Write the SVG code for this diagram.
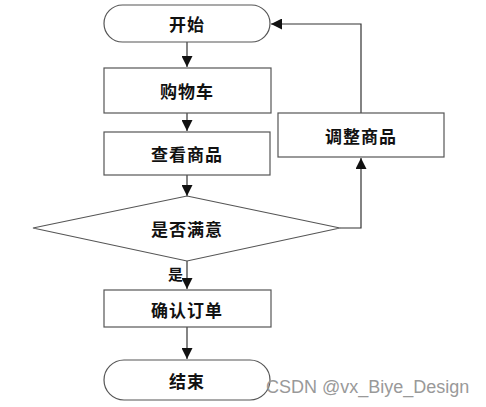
<svg xmlns="http://www.w3.org/2000/svg" width="486" height="407" viewBox="0 0 486 407">
<style>
.n{fill:#fff;stroke:#555;stroke-width:1.2}
.t{font-family:"Noto Sans CJK SC",sans-serif;font-size:17px;font-weight:bold;fill:#111;text-anchor:middle;dominant-baseline:central;letter-spacing:1px}
.c{fill:none;stroke:#333;stroke-width:1.2}
</style>
<defs>
<marker id="a" viewBox="0 0 10 10" refX="10" refY="5" markerWidth="11" markerHeight="11" markerUnits="userSpaceOnUse" orient="auto">
<path d="M0,0L10,5L0,10z" fill="#111"/>
</marker>
</defs>
<rect width="486" height="407" fill="#fff"/>
<g id="connectors">
<line class="c" x1="187" y1="42" x2="187" y2="67" marker-end="url(#a)"/>
<line class="c" x1="187" y1="113" x2="187" y2="131" marker-end="url(#a)"/>
<line class="c" x1="187" y1="175" x2="187" y2="196" marker-end="url(#a)"/>
<line class="c" x1="187" y1="261" x2="187" y2="289" marker-end="url(#a)"/>
<line class="c" x1="187" y1="327" x2="187" y2="359" marker-end="url(#a)"/>
<polyline class="c" points="340,228 361,228 361,158" marker-end="url(#a)"/>
<polyline class="c" points="361,113 361,24 271,24" marker-end="url(#a)"/>
<text class="t" x="176" y="273" style="font-size:15px">是</text>
</g>
<g id="start"><rect class="n" x="104" y="5" width="166" height="37" rx="18.5"/><text class="t" x="187" y="23">开始</text></g>
<g id="cart"><rect class="n" x="104" y="68" width="167" height="45"/><text class="t" x="187" y="90">购物车</text></g>
<g id="view"><rect class="n" x="104" y="132" width="166" height="43"/><text class="t" x="187" y="153">查看商品</text></g>
<g id="decide"><polygon class="n" points="187,196 340,228 187,261 33,228"/><text class="t" x="187" y="228">是否满意</text></g>
<g id="adjust"><rect class="n" x="278" y="113" width="166" height="44"/><text class="t" x="361" y="135">调整商品</text></g>
<g id="confirm"><rect class="n" x="104" y="290" width="167" height="37"/><text class="t" x="187" y="309">确认订单</text></g>
<g id="end"><rect class="n" x="104" y="360" width="166" height="40" rx="20"/><text class="t" x="187" y="380">结束</text></g>
<text x="266" y="393" style="font-family:'Liberation Sans',sans-serif;font-size:18px;fill:#999">CSDN @vx_Biye_Design</text>
</svg>
